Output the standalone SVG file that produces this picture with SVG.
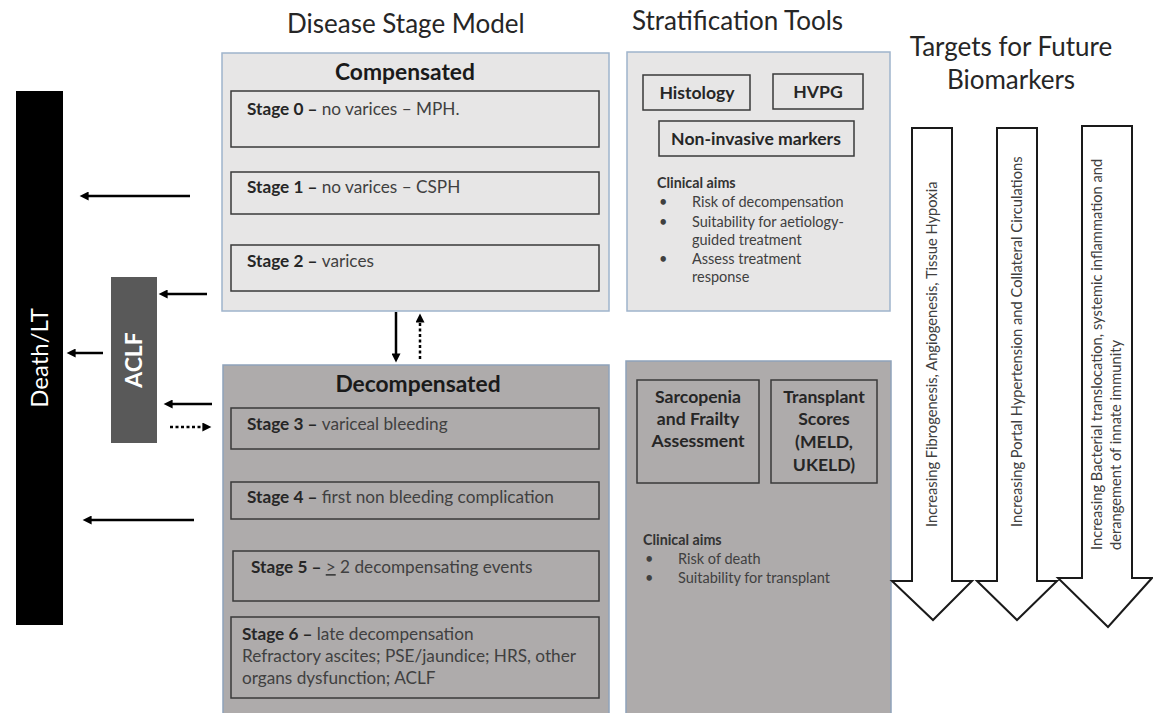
<svg xmlns="http://www.w3.org/2000/svg" width="1153" height="713" viewBox="0 0 1153 713">
<style>
text{font-family:Lato,"Liberation Sans",sans-serif}
.hdr{font-size:26px;fill:#262626}
.ttl{font-size:22.8px;font-weight:bold;fill:#1a1a1a;text-anchor:middle}
.comp{fill:#e7e6e6;stroke:#9fb4cc;stroke-width:1.5}
.dec{fill:#aeabab;stroke:#8fa3bb;stroke-width:1.5}
.stg{fill:none;stroke:#3a3a3a;stroke-width:1.5}
.st{font-size:17.2px;fill:#404040}
.st tspan.b{font-weight:bold;fill:#262626}
.tool{font-size:17.6px;font-weight:bold;fill:#262626;text-anchor:middle}
.aim{font-size:14.5px;fill:#404040}
.aimh{font-size:14.3px;font-weight:bold;fill:#333}
.con{stroke:#000;stroke-width:2.5;fill:none}
.dot{stroke:#000;stroke-width:2.5;fill:none;stroke-dasharray:3 2.5}
.big{fill:#fff;stroke:#1a1a1a;stroke-width:2}
.bt{font-size:14.7px;fill:#404040}
</style>
<defs>
<marker id="ah" viewBox="0 0 10 10" refX="4" refY="5" markerWidth="10" markerHeight="9" markerUnits="userSpaceOnUse" orient="auto">
<path d="M0,0 L10,5 L0,10 Z" fill="#000"/>
</marker>
</defs>
<rect width="1153" height="713" fill="#fff"/>

<g id="headers">
<text class="hdr" x="287" y="33">Disease Stage Model</text>
<text class="hdr" x="632" y="30">Stratification Tools</text>
<text class="hdr" x="1011" y="56" text-anchor="middle">Targets for Future</text>
<text class="hdr" x="1011" y="89" text-anchor="middle">Biomarkers</text>
</g>

<g id="death-lt">
<rect x="16" y="91" width="47" height="534" fill="#000"/>
<text x="48" y="358" transform="rotate(-90 48 358)" text-anchor="middle" font-size="24" fill="#fff">Death/LT</text>
</g>

<g id="aclf">
<rect x="111" y="277" width="46" height="166" fill="#595959"/>
<text x="142" y="360" transform="rotate(-90 142 360)" text-anchor="middle" font-size="23" font-weight="bold" fill="#fff">ACLF</text>
</g>

<g id="compensated">
<rect class="comp" x="222" y="53" width="387" height="258"/>
<text class="ttl" x="405" y="80">Compensated</text>
<rect class="stg" x="231" y="91" width="368" height="56"/>
<text class="st" x="247" y="115"><tspan class="b">Stage 0 – </tspan>no varices – MPH.</text>
<rect class="stg" x="231" y="172" width="368" height="42"/>
<text class="st" x="247" y="193"><tspan class="b">Stage 1 – </tspan>no varices – CSPH</text>
<rect class="stg" x="231" y="245" width="368" height="46"/>
<text class="st" x="247" y="267"><tspan class="b">Stage 2 – </tspan>varices</text>
</g>

<g id="decompensated">
<rect class="dec" x="223" y="365" width="386" height="360"/>
<text class="ttl" x="418" y="392">Decompensated</text>
<rect class="stg" x="231" y="408" width="368" height="41"/>
<text class="st" x="247" y="430"><tspan class="b">Stage 3 – </tspan>variceal bleeding</text>
<rect class="stg" x="231" y="482" width="368" height="37"/>
<text class="st" x="247" y="503"><tspan class="b">Stage 4 – </tspan>first non bleeding complication</text>
<rect class="stg" x="233" y="551" width="366" height="50"/>
<text class="st" x="251" y="573"><tspan class="b">Stage 5 – </tspan><tspan text-decoration="underline">&gt;</tspan> 2 decompensating events</text>
<rect class="stg" x="231" y="617" width="368" height="81"/>
<text class="st" x="242" y="640"><tspan class="b">Stage 6 – </tspan>late decompensation</text>
<text class="st" x="242" y="662">Refractory ascites; PSE/jaundice; HRS, other</text>
<text class="st" x="242" y="684">organs dysfunction; ACLF</text>
</g>

<g id="strat-compensated">
<rect class="comp" x="627" y="52" width="263" height="259"/>
<rect class="stg" x="643" y="75" width="107" height="35"/>
<text class="tool" x="697" y="99">Histology</text>
<rect class="stg" x="773" y="74" width="90" height="35"/>
<text class="tool" x="818" y="98">HVPG</text>
<rect class="stg" x="659" y="121" width="195" height="35"/>
<text class="tool" x="756" y="145">Non-invasive markers</text>
<text class="aimh" x="657" y="188">Clinical  aims</text>
<text class="aim" x="659" y="207">•</text><text class="aim" x="692" y="207">Risk of decompensation</text>
<text class="aim" x="659" y="227">•</text><text class="aim" x="692" y="227">Suitability for aetiology-</text>
<text class="aim" x="692" y="245">guided treatment</text>
<text class="aim" x="659" y="264">•</text><text class="aim" x="692" y="264">Assess treatment</text>
<text class="aim" x="692" y="282">response</text>
</g>

<g id="strat-decompensated">
<rect class="dec" x="626" y="361" width="265" height="360"/>
<rect class="stg" x="637" y="380" width="122" height="103"/>
<text class="tool" x="698" y="403">Sarcopenia</text>
<text class="tool" x="698" y="425">and Frailty</text>
<text class="tool" x="698" y="447">Assessment</text>
<rect class="stg" x="771" y="380" width="106" height="103"/>
<text class="tool" x="824" y="403">Transplant</text>
<text class="tool" x="824" y="425">Scores</text>
<text class="tool" x="824" y="448">(MELD,</text>
<text class="tool" x="824" y="471">UKELD)</text>
<text class="aimh" x="643" y="545">Clinical  aims</text>
<text class="aim" x="645" y="564">•</text><text class="aim" x="678" y="564">Risk of death</text>
<text class="aim" x="645" y="583">•</text><text class="aim" x="678" y="583">Suitability for transplant</text>
</g>

<g id="target-fibrogenesis">
<path class="big" d="M912,128 H952 V581 H972 L933,620 L892,581 H912 Z"/>
<text class="bt" x="937" y="527" transform="rotate(-90 937 527)">Increasing Fibrogenesis, Angiogenesis, Tissue Hypoxia</text>
</g>
<g id="target-portal">
<path class="big" d="M997,128 H1037 V581 H1057 L1017,620 L977,581 H997 Z"/>
<text class="bt" x="1022" y="527" transform="rotate(-90 1022 527)">Increasing Portal Hypertension and Collateral Circulations</text>
</g>
<g id="target-bacterial">
<path class="big" d="M1082,126 H1132 V578 H1152 L1108,627 L1058,578 H1082 Z"/>
<text class="bt" x="1102" y="550" transform="rotate(-90 1102 550)">Increasing Bacterial translocation, systemic inflammation and</text>
<text class="bt" x="1121" y="550" transform="rotate(-90 1121 550)">derangement of innate immunity</text>
</g>

<g id="connectors">
<line class="con" x1="190" y1="196" x2="85" y2="196" marker-end="url(#ah)"/>
<line class="con" x1="207" y1="294" x2="164" y2="294" marker-end="url(#ah)"/>
<line class="con" x1="103" y1="353" x2="72" y2="353" marker-end="url(#ah)"/>
<line class="con" x1="212" y1="404" x2="169" y2="404" marker-end="url(#ah)"/>
<line class="dot" x1="170" y1="427" x2="206" y2="427" marker-end="url(#ah)"/>
<line class="con" x1="194" y1="520" x2="88" y2="520" marker-end="url(#ah)"/>
<line class="con" x1="396" y1="312" x2="396" y2="357" marker-end="url(#ah)"/>
<line class="dot" x1="420" y1="359" x2="420" y2="319" marker-end="url(#ah)"/>
</g>
</svg>
